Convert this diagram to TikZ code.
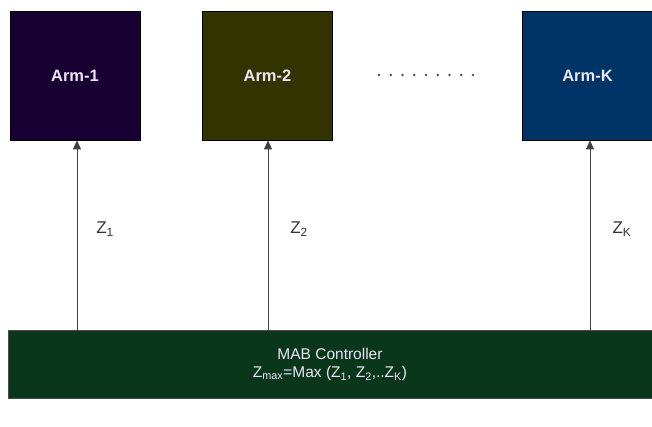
\documentclass[tikz,border=0pt]{standalone}
\usepackage{fontspec}
\setmainfont{Liberation Sans}
\usetikzlibrary{arrows.meta}
\definecolor{armone}{RGB}{25,0,51}
\definecolor{armtwo}{RGB}{51,51,0}
\definecolor{armk}{RGB}{0,51,102}
\definecolor{ctrl}{RGB}{10,55,28}
\definecolor{armtext}{RGB}{235,230,245}
\begin{document}
\begin{tikzpicture}[x=1pt,y=-1pt,
  armbox/.style={draw=black, line width=0.8pt, minimum width=130pt, minimum height=129pt, inner sep=0pt, text=armtext, font=\fontsize{16.5}{18}\selectfont\bfseries},
  ctrlbox/.style={draw=black!70, line width=0.8pt, fill=ctrl, minimum width=644pt, minimum height=68pt, inner sep=0pt, text=armtext, font=\fontsize{15.5}{18}\selectfont, align=center},
  conn/.style={draw=black!75, line width=1pt, -{Triangle[length=9pt,width=8pt]}},
  zlabel/.style={font=\fontsize{17}{19}\selectfont, text=black!80, inner sep=0pt}
]
\useasboundingbox (0,0) rectangle (652,426);
\node[armbox, fill=armone] (a1) at (75,75.5) {Arm-1};
\node[armbox, fill=armtwo] (a2) at (267.5,75.5) {Arm-2};
\node[armbox, fill=armk] (ak) at (587.5,75.5) {Arm-K};
\node[ctrlbox] (c) at (330,364.5) {MAB Controller\\Z\textsubscript{max}=Max (Z\textsubscript{1}, Z\textsubscript{2},..Z\textsubscript{K})};
\coordinate (s1) at (77,331);
\coordinate (s2) at (268,331);
\coordinate (sk) at (590,331);
\draw[conn] (s1) -- (s1 |- a1.south);
\draw[conn] (s2) -- (s2 |- a2.south);
\draw[conn] (sk) -- (sk |- ak.south);
\node[zlabel] (z1) at (105,229) {Z\textsubscript{1}};
\node[zlabel] (z2) at (299,229) {Z\textsubscript{2}};
\node[zlabel] (zk) at (622,229) {Z\textsubscript{K}};
\foreach \i in {0,...,8} {
  \fill[black!70] (379+\i*11.75,75) circle (1.3pt);
}
\end{tikzpicture}
\end{document}
